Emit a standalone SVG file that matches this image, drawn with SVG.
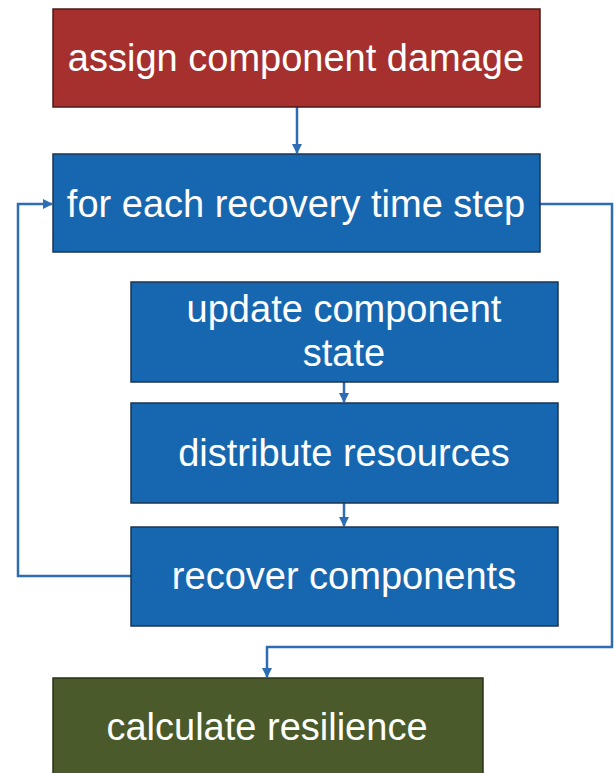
<svg xmlns="http://www.w3.org/2000/svg" width="614" height="773" viewBox="0 0 614 773">
<defs>
<marker id="ah" viewBox="0 0 10 10" refX="9" refY="5" markerWidth="4" markerHeight="4" orient="auto" markerUnits="strokeWidth">
<path d="M0,0 L10,5 L0,10 z" fill="#2E6DB4"/>
</marker>
<style>
.box{stroke:#1e2a38;stroke-width:1.5;}
.red{fill:#A5302E;stroke:#4a1a18;}
.blue{fill:#1767B0;stroke:#1c3550;}
.green{fill:#4A5A2B;stroke:#2a331a;}
.t{font-family:"Liberation Sans",Arial,Helvetica,sans-serif;font-size:38px;fill:#ffffff;text-anchor:middle;}
.c{fill:none;stroke:#2E6DB4;stroke-width:2.5;}
</style>
</defs>
<rect width="614" height="773" fill="#ffffff"/>
<g id="connectors">
<path class="c" d="M297,107 V153" marker-end="url(#ah)"/>
<path class="c" d="M344,382 V402" marker-end="url(#ah)"/>
<path class="c" d="M344,503 V526" marker-end="url(#ah)"/>
<path class="c" d="M131,576 H18 V204 H52" marker-end="url(#ah)"/>
<path class="c" d="M540,204 H612 V647 H267 V677" marker-end="url(#ah)"/>
</g>
<g id="assign">
<rect class="box red" x="53" y="9" width="487" height="98"/>
<text class="t" x="296" y="71">assign component damage</text>
</g>
<g id="foreach">
<rect class="box blue" x="53" y="154" width="487" height="98"/>
<text class="t" x="296" y="217">for each recovery time step</text>
</g>
<g id="update">
<rect class="box blue" x="131" y="282" width="427" height="100"/>
<text class="t" x="344" y="322">update component</text>
<text class="t" x="344" y="366">state</text>
</g>
<g id="distribute">
<rect class="box blue" x="131" y="403" width="427" height="100"/>
<text class="t" x="344" y="466">distribute resources</text>
</g>
<g id="recover">
<rect class="box blue" x="131" y="527" width="427" height="99"/>
<text class="t" x="344" y="589">recover components</text>
</g>
<g id="calculate">
<rect class="box green" x="53" y="678" width="430" height="100"/>
<text class="t" x="267" y="740">calculate resilience</text>
</g>
</svg>
